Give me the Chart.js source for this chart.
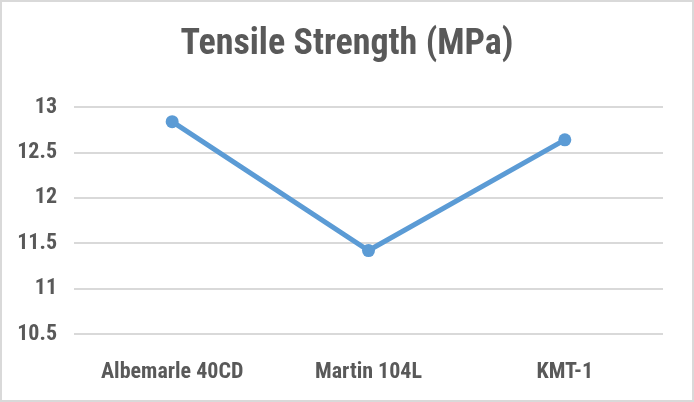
<!DOCTYPE html>
<html>
<head>
<meta charset="utf-8">
<script src="https://cdn.jsdelivr.net/npm/chart.js@4"></script>
<style>
  html, body { margin: 0; padding: 0; background: #fff; }
  .chart-box {
    width: 690px; height: 398px;
    border: 2px solid #d9d9d9;
    background: #fff;
    position: relative;
  }
</style>
</head>
<body>
<div class="chart-box">
  <canvas id="chart"></canvas>
</div>
<script>
// datos de la gráfica
const materials = ['Albemarle 40CD', 'Martin 104L', 'KMT-1'];
const tensileStrength = [12.84, 11.42, 12.64];
const yTicks = [10.5, 11, 11.5, 12, 12.5, 13];

const FONT = "'Roboto Condensed', 'Roboto', sans-serif";
const TEXT = '#595959';
const GRID = '#d9d9d9';
const BLUE = '#5b9bd5';

const ctx = document.getElementById('chart').getContext('2d');
new Chart(ctx, {
    type: 'line',
    data: {
        labels: materials,
        datasets: [{
            label: 'Tensile Strength (MPa)',
            data: tensileStrength,
            borderColor: BLUE,
            backgroundColor: BLUE,
            borderWidth: 5,
            pointRadius: 6.5,
            pointBorderWidth: 0,
            pointBackgroundColor: BLUE,
            tension: 0
        }]
    },
    options: {
        responsive: true,
        maintainAspectRatio: false,
        animation: false,
        layout: {
            padding: { left: 0, right: 0, top: 0, bottom: 22 }
        },
        plugins: {
            legend: { display: false },
            tooltip: { enabled: false },
            title: {
                display: true,
                text: 'Tensile Strength (MPa)',
                color: TEXT,
                font: { family: FONT, size: 36, weight: 'bold' },
                padding: { top: 21, bottom: 41 }
            }
        },
        scales: {
            x: {
                offset: true,
                grid: { display: false },
                border: { display: false },
                afterFit: (axis) => { axis.height = 44; },
                ticks: {
                    color: TEXT,
                    font: { family: FONT, size: 22, weight: 'bold' },
                    padding: 17,
                    maxRotation: 0
                }
            },
            y: {
                min: yTicks[0],
                max: yTicks[yTicks.length - 1],
                afterBuildTicks: (axis) => {
                    axis.ticks = yTicks.map(v => ({ value: v }));
                },
                afterFit: (axis) => { axis.width = 72; },
                grid: { color: GRID, lineWidth: 2, drawTicks: false },
                border: { display: false },
                ticks: {
                    color: TEXT,
                    font: { family: FONT, size: 22, weight: 'bold' },
                    padding: 17,
                    callback: (v) => String(v)
                }
            },
            // eje vacío a la derecha, solo para dejar margen y centrar el título
            yRight: {
                position: 'right',
                display: true,
                grid: { display: false },
                border: { display: false },
                ticks: { display: false },
                afterFit: (axis) => { axis.width = 29; }
            }
        }
    }
});
</script>
</body>
</html>
